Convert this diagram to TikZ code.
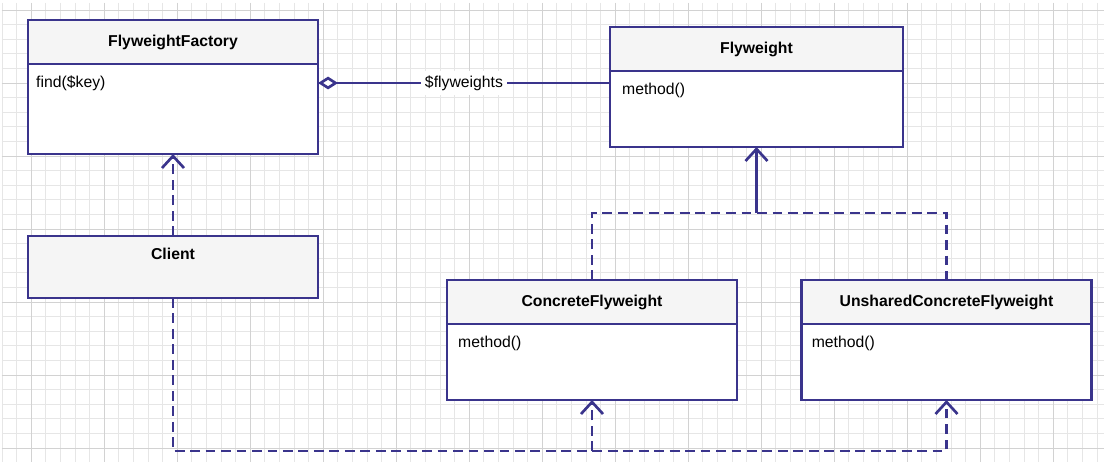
\documentclass[tikz,border=0pt]{standalone}
\usepackage{fontspec}
\setmainfont{Liberation Sans}
\usetikzlibrary{positioning,arrows.meta}
\definecolor{umlblue}{RGB}{58,52,140}
\definecolor{gridminor}{RGB}{230,230,230}
\definecolor{gridmajor}{RGB}{210,210,210}
\definecolor{headgray}{RGB}{245,245,245}

\begin{document}
\begin{tikzpicture}[
        x=0.025cm, y=-0.025cm,
        font=\fontsize{11.2}{13}\selectfont,
        head/.style={rectangle, draw=umlblue, line width=1.9pt, fill=headgray, minimum width=7.25cm, minimum height=1.1cm, inner sep=0pt, outer sep=0pt, font=\fontsize{11.2}{13}\selectfont\bfseries},
        body/.style={rectangle, draw=umlblue, line width=1.9pt, fill=white, minimum width=7.25cm, inner sep=0pt, outer sep=0pt},
        member/.style={anchor=west, inner sep=0pt},
        edgelabel/.style={fill=white, inner sep=3pt},
        link/.style={draw=umlblue, line width=1.9pt},
        dep/.style={link, dash pattern=on 7pt off 4pt},
        openhead/.style={-{Straight Barb[length=0.3cm, width=0.55cm]}},
        aggr/.style={link, {Diamond[open, fill=white, length=0.5cm, width=0.32cm]}-}
    ]
        \useasboundingbox (0,0) rectangle (1106,466);
        \fill[white] (0,0) rectangle (1106,466);

        % grid paper
        \foreach \i in {0,...,75} {
            \draw[gridminor, line width=0.5pt] ({2+\i*14.6},3) -- ({2+\i*14.6},462);
        }
        \foreach \j in {0,...,30} {
            \draw[gridminor, line width=0.5pt] (2,{10+\j*14.6}) -- (1104,{10+\j*14.6});
        }
        \foreach \i in {0,...,14} {
            \draw[gridmajor, line width=0.6pt] ({31.2+\i*73},3) -- ({31.2+\i*73},462);
        }
        \foreach \j in {0,...,6} {
            \draw[gridmajor, line width=0.6pt] (2,{10+\j*73}) -- (1104,{10+\j*73});
        }

        % classes
        \node[head] (ff) at (173,42) {FlyweightFactory};
        \node[body, below=0pt of ff, minimum height=2.25cm] (ffb) {};
        \node[member] (ffm) at ([shift={(8,19)}]ffb.north west) {find(\$key)};

        \node[head, minimum height=1.55cm] (client) at (173,267) {};
        \node[font=\fontsize{11.2}{13}\selectfont\bfseries] (clientname) at ([shift={(0,18)}]client.north) {Client};

        \node[head, minimum width=7.33cm] (fw) at (756.5,49) {Flyweight};
        \node[body, below=0pt of fw, minimum width=7.33cm, minimum height=1.9cm] (fwb) {};
        \node[member] (fwm) at ([shift={(12,19)}]fwb.north west) {method()};

        \node[head] (cf) at (592,302) {ConcreteFlyweight};
        \node[body, below=0pt of cf, minimum height=1.9cm] (cfb) {};
        \node[member] (cfm) at ([shift={(11,19)}]cfb.north west) {method()};

        \node[head] (ucf) at (946.5,302) {UnsharedConcreteFlyweight};
        \node[body, below=0pt of ucf, minimum height=1.9cm] (ucfb) {};
        \node[member] (ucfm) at ([shift={(10,19)}]ucfb.north west) {method()};

        % aggregation
        \draw[aggr] (ffb.east |- ffm) -- node[edgelabel] (agglabel) {\$flyweights} (fwb.west |- ffm);

        % generalisation
        \coordinate (split) at (fwb.south |- 0,213);
        \draw[dep] (cf.north) |- (split) -| (ucf.north);
        \draw[link, openhead] (split) -- (fwb.south);

        % dependencies
        \draw[dep, openhead] (client.north) -- (ffb.south);
        \coordinate (bus) at (client.south |- 0,451);
        \draw[dep, openhead] (client.south) -- (bus) -| (ucfb.south);
        \draw[dep, openhead] (bus -| cfb.south) -- (cfb.south);
    \end{tikzpicture}
\end{document}
